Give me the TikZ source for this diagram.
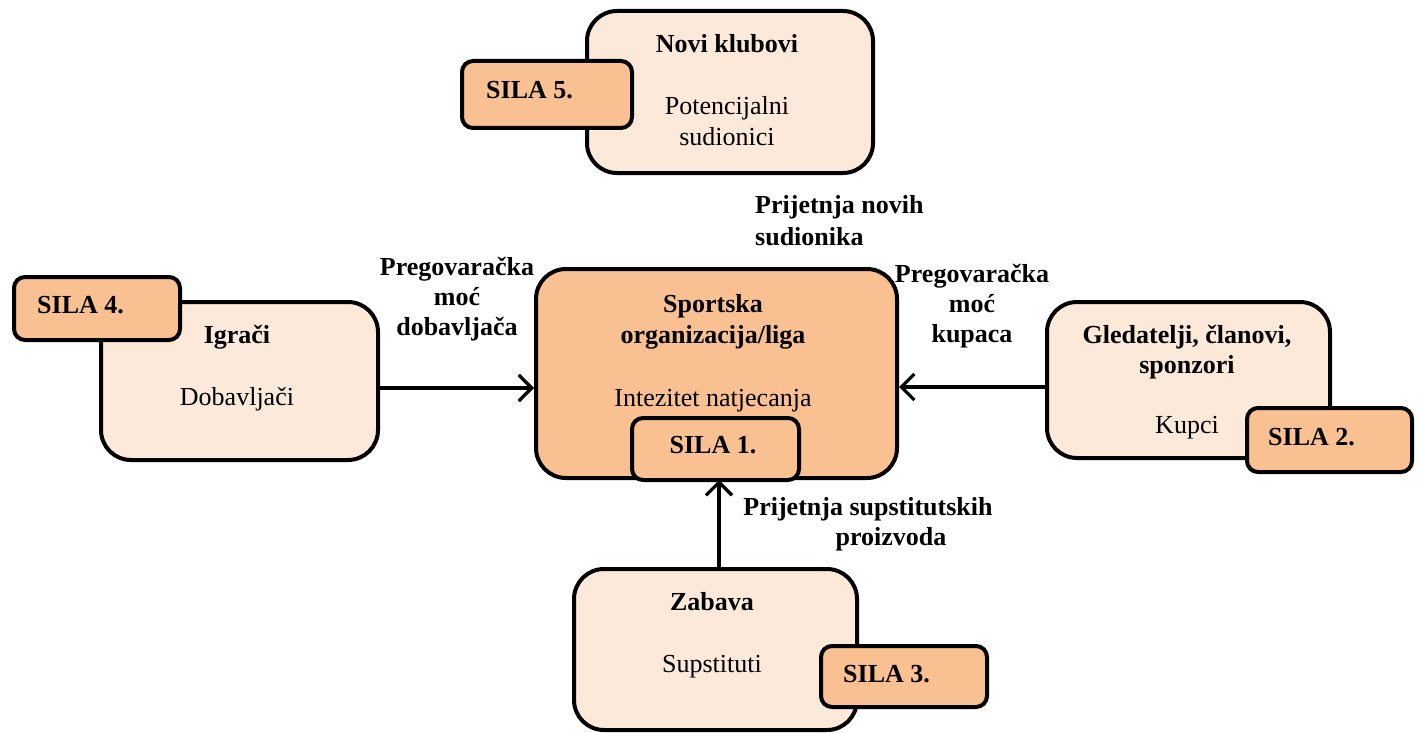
\documentclass[tikz,border=0pt]{standalone}
\usepackage{fontspec}
\setmainfont{Liberation Serif}
\usetikzlibrary{arrows.meta}
\definecolor{lightfill}{HTML}{FCE9DA}
\definecolor{darkfill}{HTML}{F9C091}
\tikzset{
  mainbox/.style={draw=black, line width=4pt, fill=lightfill, rounded corners=30pt, anchor=north west, inner sep=0pt},
  centerbox/.style={mainbox, fill=darkfill},
  tabbox/.style={draw=black, line width=4pt, fill=darkfill, rounded corners=11pt, anchor=north west, inner sep=0pt},
  txt/.style={inner sep=0pt, anchor=base, font=\fontsize{26}{31}\selectfont},
  btxt/.style={txt, font=\fontsize{26}{31}\selectfont\bfseries},
  ltxt/.style={btxt, anchor=base west},
  arr/.style={line width=3.2pt, -{Straight Barb[length=13pt, width=26pt, line width=3.2pt]}},
}
\begin{document}
\begin{tikzpicture}[x=1pt, y=-1pt]
\useasboundingbox[fill=white] (0,0) rectangle (1421,733);

% main boxes
\node[mainbox, minimum width=286pt, minimum height=162pt] (top) at (585,9) {};
\node[centerbox, minimum width=361pt, minimum height=209pt] (center) at (534,267) {};
\node[mainbox, minimum width=277pt, minimum height=158pt] (left) at (99,300) {};
\node[mainbox, minimum width=283pt, minimum height=156pt] (right) at (1045,300) {};
\node[mainbox, minimum width=283pt, minimum height=161pt] (bottom) at (572,567) {};

% tabs
\node[tabbox, minimum width=170pt, minimum height=67pt] (s5) at (460,59) {};
\node[tabbox, minimum width=167pt, minimum height=62pt] (s1) at (630,416) {};
\node[tabbox, minimum width=166pt, minimum height=63pt] (s4) at (12,275) {};
\node[tabbox, minimum width=165pt, minimum height=64pt] (s2) at (1245,406) {};
\node[tabbox, minimum width=166pt, minimum height=61pt] (s3) at (819,644) {};

% texts in top box
\node[btxt] (t1) at (727,53) {Novi klubovi};
\node[txt] (t2) at (727,115) {Potencijalni};
\node[txt] (t3) at (727,146) {sudionici};
\node[ltxt] (s5t) at (486,99) {SILA 5.};

% center box
\node[btxt] (c1) at (713,312) {Sportska};
\node[btxt] (c2) at (713,343) {organizacija/liga};
\node[txt] (c3) at (713,406) {Intezitet natjecanja};
\node[btxt] (s1t) at (713,453) {SILA 1.};

% left box
\node[btxt] (l1) at (237,343) {Igrači};
\node[txt] (l2) at (237,405) {Dobavljači};
\node[ltxt] (s4t) at (37,313) {SILA 4.};

% right box
\node[btxt] (r1) at (1187,343) {Gledatelji, članovi,};
\node[btxt] (r2) at (1187,373) {sponzori};
\node[txt] (r3) at (1187,433) {Kupci};
\node[ltxt] (s2t) at (1268,445) {SILA 2.};

% bottom box
\node[btxt] (b1) at (712,610) {Zabava};
\node[txt] (b2) at (712,672) {Supstituti};
\node[ltxt] (s3t) at (843,682) {SILA 3.};

% force labels
\node[ltxt] (pn1) at (755,213) {Prijetnja novih};
\node[ltxt] (pn2) at (755,245) {sudionika};

\node[btxt] (pd1) at (457,275) {Pregovaračka};
\node[btxt] (pd2) at (457,305) {moć};
\node[btxt] (pd3) at (457,335) {dobavljača};

\node[btxt] (pk1) at (972,282) {Pregovaračka};
\node[btxt] (pk2) at (972,312) {moć};
\node[btxt] (pk3) at (972,342) {kupaca};

\node[btxt] (ps1) at (868,515) {Prijetnja supstitutskih};
\node[btxt] (ps2) at (891,545) {proizvoda};

% connectors
\coordinate (ly) at (0,388);
\coordinate (ry) at (0,387);
\coordinate (bx) at (719,0);
\draw[arr] (left.east |- ly) -- (center.west |- ly);
\draw[arr] (right.west |- ry) -- (center.east |- ry);
\draw[arr] (bx |- bottom.north) -- (bx |- center.south);
\end{tikzpicture}
\end{document}
